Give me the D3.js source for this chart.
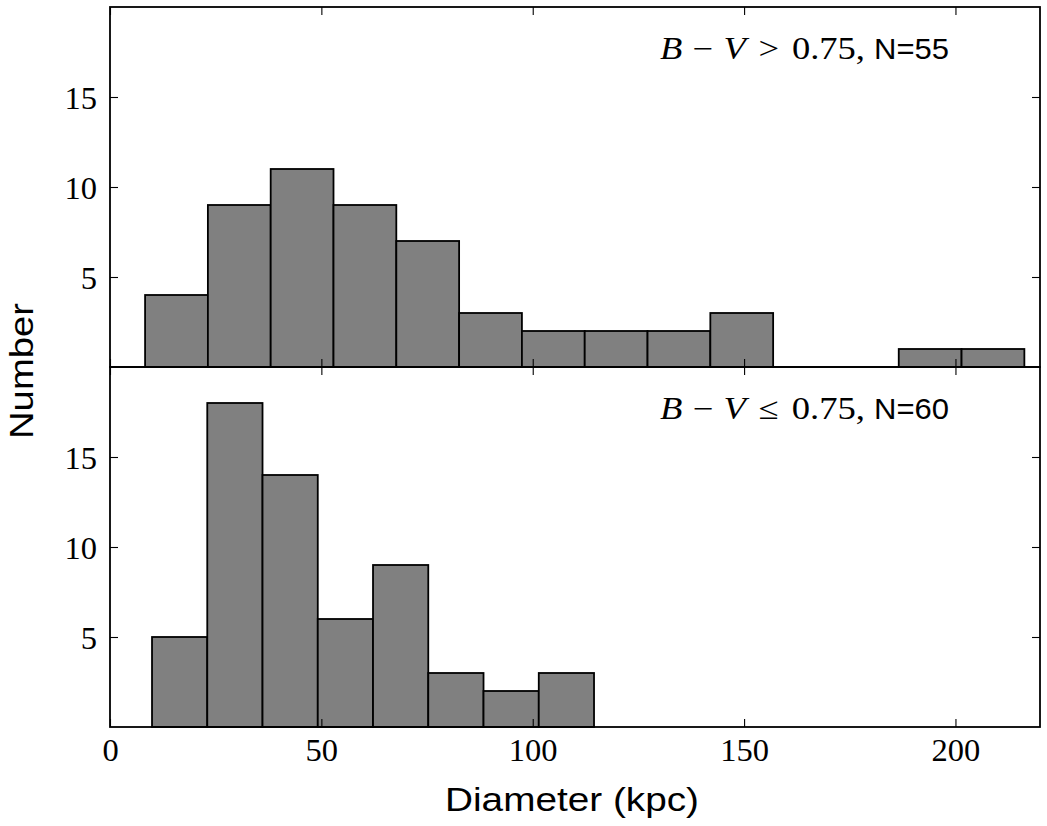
<!DOCTYPE html>
<html>
<head>
<meta charset="utf-8">
<script src="https://cdn.jsdelivr.net/npm/d3@7"></script>
<style>
  html, body { margin: 0; padding: 0; background: #fff; }
  svg { display: block; }
</style>
</head>
<body>
<svg id="chart" width="1047" height="826"></svg>
<script>
// ---- data ----
const xDomain = [0, 220];
const yDomain = [0, 20];
const xTicks = [0, 50, 100, 150, 200];
const yTicks = [5, 10, 15];

// red sample: B-V > 0.75
const redRange = [8.3, 216.3];
const redCounts = [4, 9, 11, 9, 7, 3, 2, 2, 2, 3, 0, 0, 1, 1];
const redLabel = { rel: ">", n: "N=55" };

// blue sample: B-V <= 0.75
const blueRange = [9.94, 114.5];
const blueCounts = [5, 18, 14, 6, 9, 3, 2, 3];
const blueLabel = { rel: "\u2264", n: "N=60" };

const xLabel = "Diameter (kpc)";
const yLabel = "Number";

// ---- layout ----
const W = 1047, H = 826;
const L = 110, R = 1040, T = 7, MID = 367, B = 727;
const svg = d3.select("#chart");

const x = d3.scaleLinear().domain(xDomain).range([L, R]);
const yTop = d3.scaleLinear().domain(yDomain).range([MID, T]);
const yBot = d3.scaleLinear().domain(yDomain).range([B, MID]);

function binsOf(range, counts) {
  const w = (range[1] - range[0]) / counts.length;
  return counts.map((c, i) => ({ x0: range[0] + i * w, x1: range[0] + (i + 1) * w, c }));
}

function panel(y, range, counts, label, showXLabels) {
  const top = y.range()[1], bot = y.range()[0];
  const g = svg.append("g");
  // bars
  g.selectAll("rect.bar").data(binsOf(range, counts).filter(d => d.c > 0)).join("rect")
    .attr("class", "bar")
    .attr("x", d => x(d.x0)).attr("width", d => x(d.x1) - x(d.x0))
    .attr("y", d => y(d.c)).attr("height", d => y(0) - y(d.c))
    .attr("fill", "#808080").attr("stroke", "#000").attr("stroke-width", 1.8);

  const serif = "'Liberation Serif', 'Times New Roman', serif";
  // axes
  const ax = [
    { a: d3.axisLeft(y).tickValues(yTicks).tickSizeInner(-8).tickSizeOuter(0).tickPadding(13), t: `translate(${L},0)`, lab: true, kind: "y" },
    { a: d3.axisRight(y).tickValues(yTicks).tickSizeInner(-8).tickSizeOuter(0).tickFormat(""), t: `translate(${R},0)` },
    { a: d3.axisBottom(x).tickValues(xTicks).tickSizeInner(-8).tickSizeOuter(0), t: `translate(0,${bot})`, lab: showXLabels, kind: "x" },
    { a: d3.axisTop(x).tickValues(xTicks).tickSizeInner(-8).tickSizeOuter(0).tickFormat(""), t: `translate(0,${top})` }
  ];
  ax.forEach(o => {
    if (!o.lab && o.kind === "x") o.a.tickFormat("");
    const ga = g.append("g").attr("transform", o.t).call(o.a);
    ga.select(".domain").remove();
    ga.selectAll(".tick line").attr("stroke", "#000").attr("stroke-width", 1.1);
    ga.selectAll(".tick text").attr("fill", "#000")
      .style("font-family", serif).style("font-size", "32.5px");
    if (o.kind === "y") ga.selectAll(".tick text").attr("dy", "11px");
    if (o.kind === "x") ga.selectAll(".tick text").attr("y", 34).attr("dy", 0);
  });
  // frame
  g.append("rect").attr("x", L).attr("y", top).attr("width", R - L).attr("height", bot - top)
    .attr("fill", "none").attr("stroke", "#000").attr("stroke-width", 1.8);

  // annotation
  const by = top + 52;
  const mt = g.append("text").attr("x", 660).attr("y", by)
    .attr("textLength", 205).attr("lengthAdjust", "spacingAndGlyphs")
    .style("font-family", serif).style("font-size", "31px").attr("fill", "#000");
  mt.append("tspan").style("font-style", "italic").text("B");
  mt.append("tspan").attr("dx", "0.28em").text("\u2212");
  mt.append("tspan").attr("dx", "0.28em").style("font-style", "italic").text("V");
  mt.append("tspan").attr("dx", "0.35em").text(label.rel);
  mt.append("tspan").attr("dx", "0.35em").text("0.75,");
  g.append("text").attr("x", 874).attr("y", by)
    .attr("textLength", 75).attr("lengthAdjust", "spacingAndGlyphs")
    .style("font-family", "'Liberation Sans', Arial, sans-serif").style("font-size", "29.5px")
    .attr("fill", "#000").text(label.n);
}

panel(yTop, redRange, redCounts, redLabel, false);
panel(yBot, blueRange, blueCounts, blueLabel, true);

// axis titles
svg.append("text").attr("x", 445).attr("y", 810.7)
  .attr("textLength", 254).attr("lengthAdjust", "spacingAndGlyphs")
  .style("font-family", "'Liberation Sans', Arial, sans-serif").style("font-size", "33px")
  .attr("fill", "#000").text(xLabel);
svg.append("text").attr("transform", "translate(33,371) rotate(-90)")
  .attr("x", -68).attr("y", 0)
  .attr("textLength", 136).attr("lengthAdjust", "spacingAndGlyphs")
  .style("font-family", "'Liberation Sans', Arial, sans-serif").style("font-size", "34px")
  .attr("fill", "#000").text(yLabel);
</script>
</body>
</html>
